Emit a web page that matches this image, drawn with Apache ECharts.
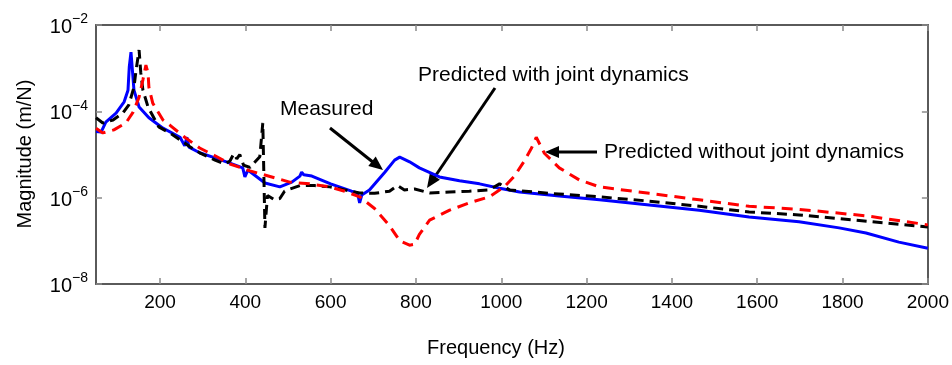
<!DOCTYPE html>
<html><head><meta charset="utf-8">
<script src="https://cdn.jsdelivr.net/npm/echarts@6/dist/echarts.min.js"></script>
<style>html,body{margin:0;padding:0;background:#fff}#c{width:952px;height:365px}</style>
</head><body><div id="c"></div>
<script>
// Data: frequency (Hz) and log10 of magnitude (m/N)
const measuredFreq = [50,62,73,97,116,125,128,132,139,151,174,207,247,258,263,268,293,329,364,394,399,406,446,481,509,528,532,537,556,600,649,663,668,673,691,727,750,762,785,808,855,902,949,996,1043,1136,1230,1347,1464,1581,1698,1792,1855,1932,2000];
const measuredLogMag = [-4.47,-4.48,-4.25,-4.04,-3.78,-3.51,-2.97,-2.63,-3.51,-3.90,-4.15,-4.39,-4.60,-4.80,-4.60,-4.83,-4.96,-5.08,-5.20,-5.31,-5.52,-5.36,-5.66,-5.75,-5.64,-5.50,-5.41,-5.47,-5.50,-5.68,-5.85,-5.89,-6.12,-5.94,-5.82,-5.41,-5.13,-5.06,-5.17,-5.31,-5.52,-5.61,-5.68,-5.78,-5.87,-5.96,-6.05,-6.17,-6.29,-6.45,-6.56,-6.70,-6.82,-7.03,-7.17];

const withJointFreq = [50,66,90,113,127,139,144,151,155,160,172,197,223,247,270,293,329,352,364,373,380,387,396,411,422,434,441,446,452,469,481,492,504,528,562,598,633,668,703,738,757,773,797,832,879,925,972,996,1019,1113,1230,1347,1464,1581,1698,1839,1979,2000];
const withJointLogMag = [-4.15,-4.27,-4.20,-4.04,-3.85,-3.44,-3.04,-2.58,-3.11,-3.51,-3.90,-4.36,-4.5,-4.66,-4.82,-4.96,-5.13,-5.22,-5.15,-4.98,-5.10,-5.00,-5.25,-5.30,-5.18,-5.05,-4.27,-6.70,-5.95,-6.05,-6.02,-5.85,-5.80,-5.72,-5.72,-5.75,-5.82,-5.89,-5.90,-5.85,-5.72,-5.82,-5.80,-5.89,-5.87,-5.85,-5.82,-5.68,-5.82,-5.90,-5.98,-6.08,-6.2,-6.33,-6.40,-6.53,-6.66,-6.68];

const withoutJointFreq = [50,66,92,120,137,151,160,167,172,174,183,207,223,258,293,329,364,411,469,504,551,598,633,668,703,738,762,785,797,808,832,879,925,972,1007,1031,1054,1071,1082,1101,1136,1183,1230,1347,1464,1581,1698,1855,2000];
const withoutJointLogMag = [-4.39,-4.50,-4.43,-4.27,-4.02,-3.67,-3.27,-2.93,-3.11,-3.44,-3.81,-4.20,-4.32,-4.60,-4.85,-5.03,-5.22,-5.38,-5.54,-5.64,-5.68,-5.75,-5.85,-5.98,-6.25,-6.65,-7.00,-7.10,-7.08,-6.85,-6.52,-6.29,-6.12,-5.98,-5.75,-5.50,-5.15,-4.85,-4.60,-4.97,-5.31,-5.59,-5.75,-5.90,-6.05,-6.2,-6.27,-6.42,-6.63];

const xTicks = [200,400,600,800,1000,1200,1400,1600,1800,2000];
const yTickExponents = [-8,-6,-4,-2];

const FONT = '"Liberation Sans", Arial, Helvetica, sans-serif';
const pairs = (xs, ys) => xs.map((x, i) => [x, ys[i]]);

const chart = echarts.init(document.getElementById('c'), null, {renderer: 'canvas'});
const frame = {show: true, lineStyle: {color: '#5a5a5a', width: 2}};
const tick = {show: true, inside: true, length: 6, lineStyle: {color: '#8a8a8a', width: 1.5}, customValues: xTicks};
const yLabel = v => '{b|10}{s|' + (v < 0 ? '\u2212' : '') + Math.abs(v) + '}';

const option = {
  animation: false,
  backgroundColor: '#fff',
  grid: {left: 96, top: 25, right: 23, bottom: 81, containLabel: false},
  xAxis: [
    {type: 'value', min: 50, max: 2000, position: 'bottom', axisLine: frame, splitLine: {show: false},
     axisTick: tick,
     axisLabel: {customValues: xTicks, margin: 9, fontSize: 19, fontFamily: FONT, color: '#000', formatter: v => String(v)}},
    {type: 'value', min: 50, max: 2000, position: 'top', axisLine: frame, splitLine: {show: false},
     axisTick: tick, axisLabel: {show: false}}
  ],
  yAxis: [
    {type: 'value', min: -8, max: -2, interval: 2, position: 'left', axisLine: frame, splitLine: {show: false},
     axisTick: {show: true, inside: true, length: 6, lineStyle: {color: '#8a8a8a', width: 1.5}},
     axisLabel: {margin: 8, formatter: yLabel, color: '#000',
       rich: {b: {fontSize: 20, fontFamily: FONT, color: '#000', verticalAlign: 'bottom'},
              s: {fontSize: 14, fontFamily: FONT, color: '#000', verticalAlign: 'bottom', padding: [0, 0, 11, 0]}}}},
    {type: 'value', min: -8, max: -2, interval: 2, position: 'right', axisLine: frame, splitLine: {show: false},
     axisTick: {show: true, inside: true, length: 6, lineStyle: {color: '#8a8a8a', width: 1.5}},
     axisLabel: {show: false}}
  ],
  series: [
    {name: 'Measured', type: 'line', data: pairs(measuredFreq, measuredLogMag), showSymbol: false,
     lineStyle: {color: '#0000ff', width: 3}, z: 2},
    {name: 'Predicted with joint dynamics', type: 'line', data: pairs(withJointFreq, withJointLogMag), showSymbol: false,
     lineStyle: {color: '#000', width: 3, type: [10, 6]}, z: 3},
    {name: 'Predicted without joint dynamics', type: 'line', data: pairs(withoutJointFreq, withoutJointLogMag), showSymbol: false,
     lineStyle: {color: '#ff0000', width: 3, type: [11, 7]}, z: 4}
  ],
  graphic: [
    {type: 'text', x: 496, y: 348, style: {text: 'Frequency (Hz)', font: '20px ' + FONT, fill: '#000', textAlign: 'center', textVerticalAlign: 'middle'}},
    {type: 'text', x: 25, y: 154, rotation: Math.PI / 2, style: {text: 'Magnitude (m/N)', font: '20px ' + FONT, fill: '#000', textAlign: 'center', textVerticalAlign: 'middle'}},
    {type: 'text', x: 280, y: 109, style: {text: 'Measured', font: '21px ' + FONT, fill: '#000', textAlign: 'left', textVerticalAlign: 'middle'}},
    {type: 'text', x: 418, y: 75, style: {text: 'Predicted with joint dynamics', font: '21px ' + FONT, fill: '#000', textAlign: 'left', textVerticalAlign: 'middle'}},
    {type: 'text', x: 604, y: 152, style: {text: 'Predicted without joint dynamics', font: '21px ' + FONT, fill: '#000', textAlign: 'left', textVerticalAlign: 'middle'}},
    {type: 'line', shape: {x1: 330, y1: 128, x2: 374, y2: 163}, style: {stroke: '#000', lineWidth: 3}},
    {type: 'polygon', shape: {points: [[383, 170], [368.3, 166.0], [375.7, 156.6]]}, style: {fill: '#000'}},
    {type: 'line', shape: {x1: 495, y1: 88, x2: 434, y2: 178}, style: {stroke: '#000', lineWidth: 3}},
    {type: 'polygon', shape: {points: [[427, 188], [429.9, 173.0], [439.9, 179.8]]}, style: {fill: '#000'}},
    {type: 'line', shape: {x1: 597, y1: 152, x2: 557, y2: 152}, style: {stroke: '#000', lineWidth: 3}},
    {type: 'polygon', shape: {points: [[545, 152], [559, 146], [559, 158]]}, style: {fill: '#000'}}
  ]
};
chart.setOption(option);
</script></body></html>
